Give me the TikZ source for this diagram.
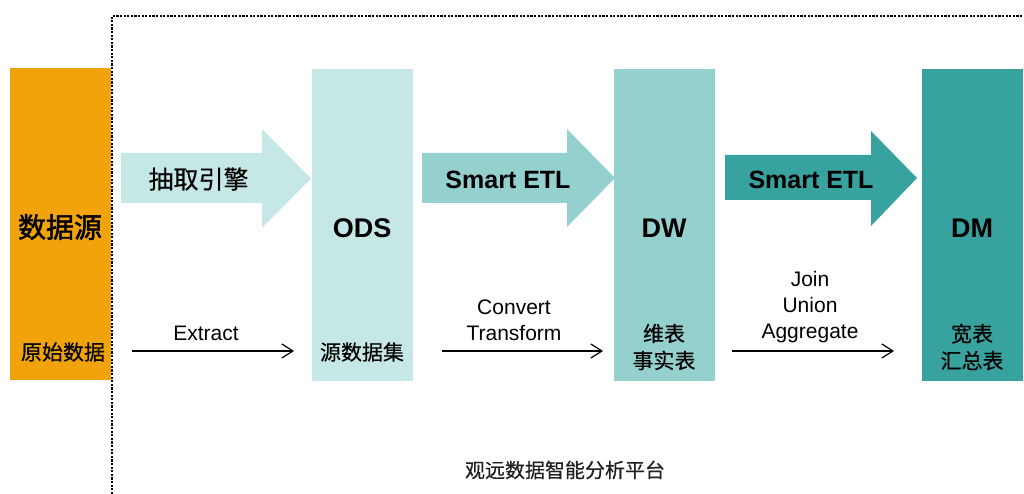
\documentclass[tikz,border=0pt]{standalone}
\usepackage{fontspec}
\setmainfont{Liberation Sans}
\newfontfamily\cjk[FakeBold=0.4]{Noto Sans CJK SC}
\newfontfamily\cjkb[FakeBold=1.6]{Noto Sans CJK SC}
\usetikzlibrary{arrows.meta}
\definecolor{cOrange}{HTML}{F0A30A}
\definecolor{cODS}{HTML}{C5E8E6}
\definecolor{cDW}{HTML}{94D0CE}
\definecolor{cDM}{HTML}{38A29E}
\begin{document}
\begin{tikzpicture}[x=1pt,y=-1pt,
  layer/.style={inner sep=0pt, anchor=north west, minimum width=101pt, minimum height=312pt},
  big/.style={font=\fontsize{27}{30}\selectfont\bfseries},
  cjkbig/.style={font=\fontsize{28}{32}\selectfont\cjkb},
  cjklbl/.style={font=\fontsize{21}{27}\selectfont\cjk, align=center},
  etl/.style={font=\fontsize{25}{28}\selectfont\bfseries},
  op/.style={font=\fontsize{21}{26}\selectfont, align=center},
  thin arrow/.style={-{Straight Barb[length=11pt,width=14pt,line width=1.2pt]}, line width=1.2pt},
  platform/.style={draw=black, line width=2.4pt, dash pattern=on 2.2pt off 1.4pt}
]
\useasboundingbox (0,0) rectangle (1024,494);

% layer boxes
\node[layer, fill=cOrange] (src) at (10,68) {};
\node[layer, fill=cODS] (ods) at (312,69) {};
\node[layer, fill=cDW] (dw) at (614,69) {};
\node[layer, fill=cDM] (dm) at (922,69) {};

% big arrows
\fill[cODS] (121,153) -- (262,153) -- (262,129) -- (311,178.5) -- (262,228) -- (262,203) -- (121,203) -- cycle;
\fill[cDW] (422,153) -- (567,153) -- (567,129) -- (615,178) -- (567,227) -- (567,203) -- (422,203) -- cycle;
\fill[cDM] (725,155) -- (871,155) -- (871,131) -- (917,178) -- (871,226) -- (871,200) -- (725,200) -- cycle;

\node[font=\fontsize{25}{30}\selectfont\cjk, anchor=west] (eng) at (145,179) {抽取引擎};
\node[etl] (etl1) at (508,180) {Smart ETL};
\node[etl] (etl2) at (811,180) {Smart ETL};

% titles
\node[cjkbig] (srct) at (60,227) {数据源};
\node[big] (odst) at (362,228) {ODS};
\node[big] (dwt) at (664,228) {DW};
\node[big] (dmt) at (972,228) {DM};

% sub labels
\node[cjklbl] (srcs) at (63,352) {原始数据};
\node[cjklbl] (odss) at (362,352) {源数据集};
\node[cjklbl] (dws) at (664,347) {维表\\事实表};
\node[cjklbl] (dms) at (972,347) {宽表\\汇总表};

% operation labels
\node[op] (ext) at (206,333) {Extract};
\node[op] (conv) at (514,320) {Convert\\Transform};
\node[op] (join) at (810,307) {Join\\Union\\Aggregate};

% thin arrows
\coordinate (a1s) at (132,351); \coordinate (a1e) at (294,351);
\coordinate (a2s) at (442,351); \coordinate (a2e) at (603,351);
\coordinate (a3s) at (732,351); \coordinate (a3e) at (894,351);
\draw[thin arrow] (a1s) -- (a1e);
\draw[thin arrow] (a2s) -- (a2e);
\draw[thin arrow] (a3s) -- (a3e);

% platform border
\coordinate (pb) at (112,494);
\coordinate (pc) at (112,16);
\coordinate (pr) at (1024,16);
\draw[platform] (pb) -- (pc) -- (pr);
\node[font=\fontsize{20}{24}\selectfont\cjk, text=black!88] (plat) at (565,470) {观远数据智能分析平台};
\end{tikzpicture}
\end{document}
